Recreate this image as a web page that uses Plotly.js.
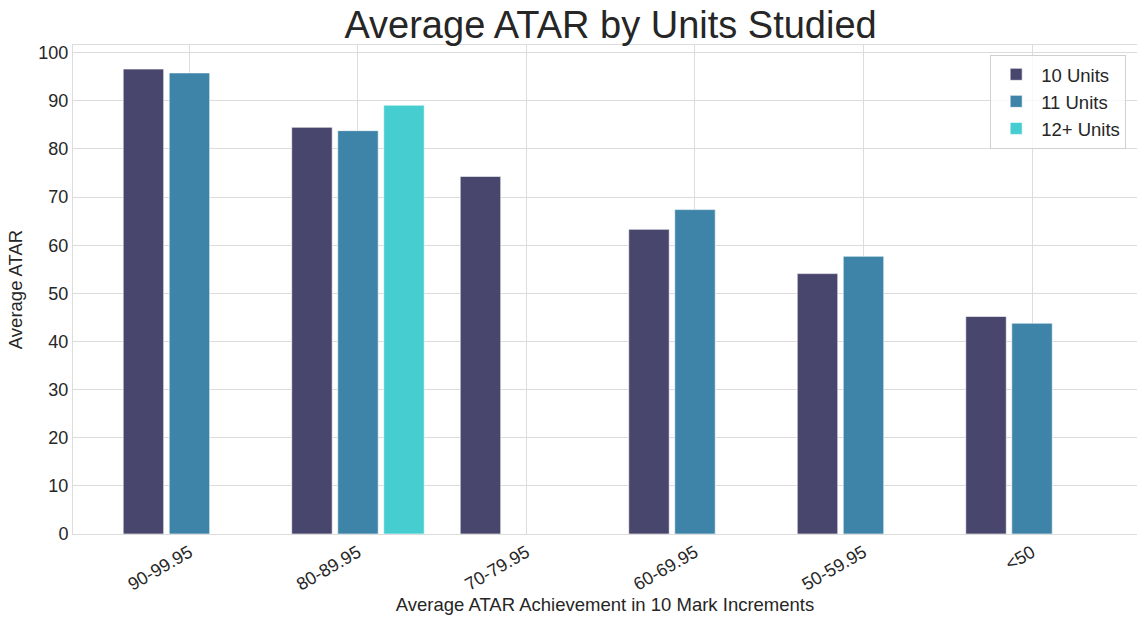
<!DOCTYPE html>
<html>
<head>
<meta charset="utf-8">
<script src="https://cdn.plot.ly/plotly-3.0.1.min.js"></script>
<style>html,body{margin:0;padding:0;background:#fff;}#chart{width:1137px;height:617px;}</style>
</head>
<body>
<div id="chart"></div>
<script>
const categories = ["90-99.95", "80-89.95", "70-79.95", "60-69.95", "50-59.95", "<50"];
const units10 = [96.6, 84.5, 74.3, 63.3, 54.1, 45.2];
const units11 = [95.8, 83.8, null, 67.4, 57.7, 43.8];
const units12 = [null, 89.1, null, null, null, null];
const seriesNames = ["10 Units", "11 Units", "12+ Units"];
const colors = ["#48466d", "#3d84a8", "#46cdcf"];

const xs = categories.map((c, i) => i);
const data = [units10, units11, units12].map((vals, k) => ({
  type: "bar",
  name: seriesNames[k],
  x: xs,
  y: vals,
  marker: {color: colors[k], line: {color: "rgba(255,255,255,0.6)", width: 1}},
  hoverinfo: "y+name"
}));

const layout = {
  width: 1137, height: 617,
  margin: {l: 73, r: 0, t: 45, b: 83},
  paper_bgcolor: "#fff", plot_bgcolor: "#fff",
  font: {family: "Liberation Sans, Arial, sans-serif", color: "#262626", size: 18},
  title: {text: "Average ATAR by Units Studied", x: 0.537, xanchor: "center", y: 0.96, yanchor: "middle",
          font: {size: 38, color: "#262626"}},
  barmode: "group",
  bargap: 0.181,
  bargroupgap: 0.12,
  xaxis: {
    range: [-0.691, 5.623],
    tickmode: "array", tickvals: xs, ticktext: categories,
    tickangle: -30,
    showgrid: true, gridcolor: "#dcdcdc", gridwidth: 1,
    showline: true, linecolor: "#dcdcdc", linewidth: 1, mirror: true,
    zeroline: false, ticks: "",
    tickfont: {size: 18, color: "#262626"},
    title: {text: "Average ATAR Achievement in 10 Mark Increments", font: {size: 18.5, color: "#262626"}, standoff: 4}
  },
  yaxis: {
    range: [0, 101.6],
    tickmode: "array", tickvals: [0,10,20,30,40,50,60,70,80,90,100],
    showgrid: true, gridcolor: "#dcdcdc", gridwidth: 1,
    showline: true, linecolor: "#dcdcdc", linewidth: 1,
    zeroline: false, ticks: "",
    tickfont: {size: 18, color: "#262626"},
    title: {text: "Average ATAR", font: {size: 18.5, color: "#262626"}, standoff: 10}
  },
  legend: {
    x: 0.862, y: 0.98, xanchor: "left", yanchor: "top",
    bgcolor: "rgba(255,255,255,0.8)", bordercolor: "#d0d0d0", borderwidth: 1,
    font: {size: 18.5, color: "#262626"},
    itemwidth: 40,
    tracegroupgap: 4
  },
  showlegend: true
};

Plotly.newPlot("chart", data, layout, {displayModeBar: false, staticPlot: true});
</script>
</body>
</html>
